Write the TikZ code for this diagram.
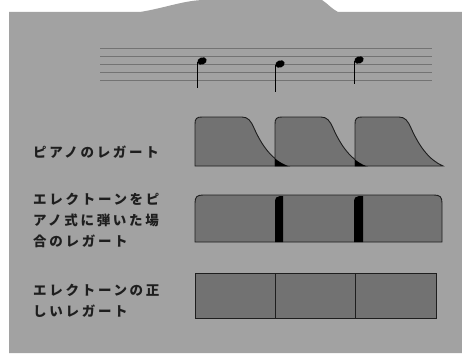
\documentclass[tikz,border=0pt]{standalone}
\usepackage{fontspec}
\newfontfamily\jpfont[LetterSpace=20]{Noto Sans CJK JP}
\definecolor{paper}{HTML}{A2A2A2}
\definecolor{shade}{HTML}{727272}
\definecolor{ink}{HTML}{1E1E1E}
\tikzset{
  label/.style={anchor=west, inner sep=0pt, align=left, text=ink,
    font=\jpfont\bfseries\fontsize{13.5}{20.6}\selectfont},
  blockshape/.style={fill=shade, draw=ink, line width=0.9pt},
  staffline/.style={draw=black!55, line width=0.5pt},
  notestem/.style={draw=black, line width=1.1pt},
  notehead/.style={fill=black},
}
\newcommand{\pianoshape}[3]{% left, slope start, tail end
  (#1,166) -- (#1,124) .. controls (#1,118.5) and (#1+1.5,117) .. (#1+7,117)
  -- (#2-6,117) .. controls (#2,117) and (#2+3,121) .. (#2+6,128)
  .. controls (#2+14,146) and (#2+24,160) .. (#3,166) -- cycle}
\begin{document}
\begin{tikzpicture}[x=1pt,y=-1pt]
\useasboundingbox (0,0) rectangle (462,353);
\fill[white] (0,0) rectangle (462,353);
% paper background
\fill[paper] (9,12) -- (140,12) .. controls (165,8) and (185,0) .. (205,0)
  -- (322,0) .. controls (328,4) and (332,9) .. (338,12) -- (462,12)
  -- (462,353) -- (9,353) -- cycle;
% staff
\foreach \yy in {48,56,64,72,80} \draw[staffline] (100,\yy) -- (432,\yy);
% notes
\coordinate (h1) at (202,61);
\coordinate (h2) at (280,64);
\coordinate (h3) at (359,60);
\fill[notehead, rotate around={20:(h1)}] (h1) ellipse (4.8 and 3.6);
\fill[notehead, rotate around={20:(h2)}] (h2) ellipse (4.8 and 3.6);
\fill[notehead, rotate around={20:(h3)}] (h3) ellipse (4.8 and 3.6);
\draw[notestem] (197.6,62) -- (197.6,88);
\draw[notestem] (275.6,65) -- (275.6,92);
\draw[notestem] (354.6,61) -- (354.6,84);
% piano legato
\path[blockshape] \pianoshape{195}{248}{288};
\path[blockshape] \pianoshape{275}{327}{366};
\path[blockshape] \pianoshape{355}{405}{443};
\begin{scope}
  \clip (275,117) rectangle (300,167);
  \fill[black] \pianoshape{195}{248}{288};
\end{scope}
\begin{scope}
  \clip (355,117) rectangle (380,167);
  \fill[black] \pianoshape{275}{327}{366};
\end{scope}
% electone played piano-style
\path[blockshape] (195,242) -- (195,203) .. controls (195,197) and (197,195) .. (203,195)
  -- (434,195) .. controls (440,195) and (442,197) .. (442,203) -- (442,242) -- cycle;
\fill[black] (275,242) -- (275,202) .. controls (275,198) and (277,196) .. (280,196)
  -- (283,196) -- (283,242) -- cycle;
\fill[black] (354,242) -- (354,202) .. controls (354,198) and (356,196) .. (359,196)
  -- (363,196) -- (363,242) -- cycle;
% correct electone legato
\path[blockshape] (195,273) rectangle (436,318);
\draw[ink, line width=0.9pt] (275,273) -- (275,318);
\draw[ink, line width=0.9pt] (355,273) -- (355,318);
% labels
\node[label] (l1) at (33,152) {ピアノのレガート};
\node[label] (l2) at (33,220.5) {エレクトーンをピ\\アノ式に弾いた場\\合のレガート};
\node[label] (l3) at (33,301) {エレクトーンの正\\しいレガート};
\end{tikzpicture}
\end{document}
